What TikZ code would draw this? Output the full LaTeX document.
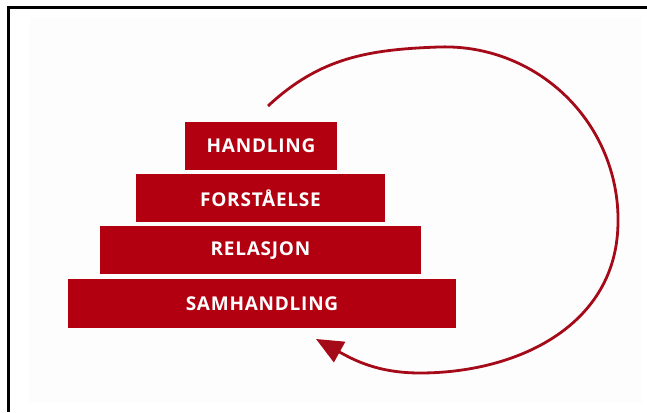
\documentclass[tikz,border=0pt]{standalone}
\usepackage{fontspec}
\newfontfamily\stepfont{Open Sans}[LetterSpace=4]
\usetikzlibrary{arrows.meta,positioning}
\definecolor{stepred}{RGB}{178,0,16}
\definecolor{arcred}{RGB}{165,10,24}
\definecolor{paper}{RGB}{253,253,253}
\tikzset{
	level/.style={fill=stepred, text=white, inner sep=0pt,
			font=\stepfont\bfseries\fontsize{19}{19}\selectfont},
	cycle/.style={draw=arcred, line width=2.8pt,
			-{Triangle[length=27pt,width=23pt]}}
}

\begin{document}
\begin{tikzpicture}[x=1pt,y=1pt]
        \useasboundingbox (0,0) rectangle (647,412);
        \fill[paper] (29,9) rectangle (642,395);
        \draw[line width=3pt] (647,404) -- (8.5,404) -- (8.5,0);
        % the four steps
        \node[level,minimum width=152pt,minimum height=48pt] (handling) at (261,266) {HANDLING};
        \node[level,minimum width=249pt,minimum height=48pt] (forstaaelse) at (260.5,214) {FORSTÅELSE};
        \node[level,minimum width=321pt,minimum height=48pt] (relasjon) at (260.5,161.5) {RELASJON};
        \node[level,minimum width=388pt,minimum height=49pt] (samhandling) at (262,108.5) {SAMHANDLING};
        % the loop round them
        \coordinate (arcstart) at (268,306);
        \coordinate (arctop) at (439,365);
        \coordinate (arcbottom) at (420,39);
        \coordinate (arctip) at (316,73);
        \draw[cycle] (arcstart) to[out=43,in=182] (arctop)
                arc[start angle=92,end angle=-5,radius=173]
                to[out=-95,in=0] (arcbottom)
                to[out=180,in=-29] (arctip);
    \end{tikzpicture}
\end{document}
